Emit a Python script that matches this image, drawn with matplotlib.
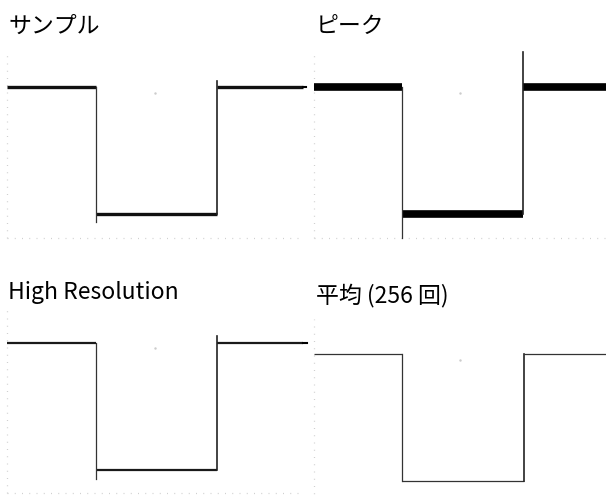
import matplotlib
matplotlib.use("Agg")
import matplotlib.pyplot as plt

plt.rcParams['font.family'] = ['Noto Sans CJK JP', 'DejaVu Sans']

# ---- data (screen divisions: x 0..10, y 0..8) ----
titles = ["サンプル", "ピーク", "High Resolution", "平均 (256 回)"]
fall_t = [3.00, 3.01, 3.00, 3.01]
rise_t = [7.09, 7.16, 7.09, 7.19]
high_lv = [6.50, 6.50, 6.49, 6.50]
low_lv = [1.03, 1.03, 1.00, 1.03]
fall_min = [0.69, 0.00, 0.60, 1.03]
rise_max = [6.75, 8.00, 6.80, 6.50]
t_start = [0.0, 0.0, 0.0, 0.0]
t_end = [10.0, 10.0, 10.0, 10.0]

# ---- layout in pixels ----
W, H = 606, 500
panels_px = [  # x0, x1, y_bottom, y_top
    (7, 303, 238, 52),
    (314, 606, 238, 52),
    (7, 303, 493, 308),
    (314, 606, 505, 319),
]
title_px = [(8, 33), (316, 33), (8, 299), (316, 302)]
trace_lw = [2.4, 5.5, 1.6, 0.9]
trace_col = ["#111111", "#000000", "#1a1a1a", "#333333"]
vert_lw = [0.9, 0.9, 0.9, 0.9]

fig = plt.figure(figsize=(W / 100, H / 100), dpi=100)
fig.patch.set_facecolor("white")

for i in range(4):
    x0, x1, yb, yt = panels_px[i]
    ax = fig.add_axes([x0 / W, 1 - yb / H, (x1 - x0) / W, (yb - yt) / H])
    ax.set_xlim(0, 10)
    ax.set_ylim(0, 8)
    ax.axis("off")
    # dotted graticule edges
    ax.plot([0, 0], [0, 8], ls=(0, (0.8, 5)), color="#d0d0d0", lw=0.9, clip_on=False)
    ax.plot([0, 10], [0, 0], ls=(0, (0.8, 5)), color="#d0d0d0", lw=0.9, clip_on=False)
    ax.plot([5.0], [6.25], marker=".", ms=1.5, color="#cccccc")
    # horizontal levels
    ax.plot([t_start[i], fall_t[i]], [high_lv[i], high_lv[i]],
            color=trace_col[i], lw=trace_lw[i], solid_capstyle="butt", clip_on=False)
    ax.plot([fall_t[i], rise_t[i]], [low_lv[i], low_lv[i]],
            color=trace_col[i], lw=trace_lw[i], solid_capstyle="butt", clip_on=False)
    ax.plot([rise_t[i], t_end[i]], [high_lv[i], high_lv[i]],
            color=trace_col[i], lw=trace_lw[i], solid_capstyle="butt", clip_on=False)
    # edges
    ax.plot([fall_t[i], fall_t[i]], [high_lv[i], fall_min[i]],
            color="#333333", lw=vert_lw[i], clip_on=False)
    ax.plot([rise_t[i], rise_t[i]], [low_lv[i], rise_max[i]],
            color="#222222", lw=vert_lw[i] + 0.3, clip_on=False)
    fig.text(title_px[i][0] / W, 1 - title_px[i][1] / H, titles[i],
             fontsize=16.5, va="baseline", ha="left", color="black")

# channel markers
fig.add_artist(plt.Line2D([303 / W, 306 / W], [1 - 87 / H, 1 - 87 / H], color="black", lw=1.5))
fig.add_artist(plt.Line2D([303 / W, 307 / W], [1 - 343 / H, 1 - 343 / H], color="black", lw=1.5))

fig.savefig("out.png", dpi=100, facecolor="white")
